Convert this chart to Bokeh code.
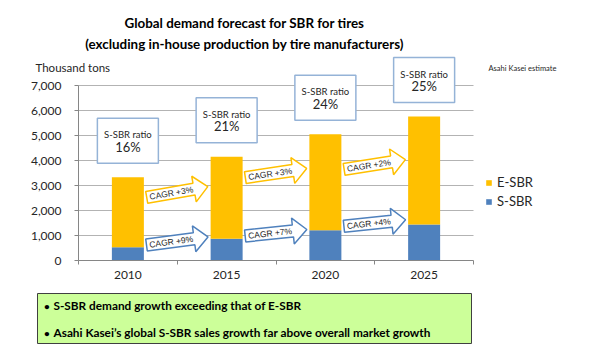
import math
from bokeh.plotting import figure
from bokeh.models import (Range1d, FixedTicker, NumeralTickFormatter, Label, Legend,
                          LegendItem, ColumnDataSource)
from bokeh.core.properties import value
from bokeh.embed import file_html
from bokeh.resources import INLINE

# ---------------- data ----------------
years = ["2010", "2015", "2020", "2025"]
s_sbr = [530, 870, 1210, 1440]          # thousand tons
e_sbr = [2800, 3280, 3840, 4320]        # thousand tons
ratio_labels = ["16%", "21%", "24%", "25%"]
cagr_e = ["CAGR +3%", "CAGR +3%", "CAGR +2%"]
cagr_s = ["CAGR +9%", "CAGR +7%", "CAGR +4%"]
y_ticks = [0, 1000, 2000, 3000, 4000, 5000, 6000, 7000]

title_lines = ["Global demand forecast for SBR for tires",
               "(excluding in-house production by tire manufacturers)"]
unit_label = "Thousand tons"
source_note = "Asahi Kasei estimate"
notes = ["S-SBR demand growth exceeding that of E-SBR",
         "Asahi Kasei\u2019s global S-SBR sales growth far above overall market growth"]

# ---------------- layout / styles ----------------
W, H = 600, 356
AX_L, AX_R, AX_B, AX_T = 78, 473, 260, 85     # pixel positions of the value axes
NCAT, YTOP = len(years), y_ticks[-1]
PXX = (AX_R - AX_L) / NCAT                     # px per category
PXY = (AX_B - AX_T) / YTOP                     # px per thousand tons
YELLOW, BLUE = "#FFC000", "#4F81BD"
AXIS_C, GRID_C, TXT_C = "#868686", "#B3B3B3", "#262626"
FONT = "Lato"


def X(px):
    return (px - AX_L) / PXX


def Y(py):
    return (AX_B - py) / PXY


# annotation arrow placement (y centres in value units, tilt in degrees)
arrow_e_y = [2740, 3500, 3840]
arrow_s_y = [780, 1110, 1500]
arrow_e_deg = [10, 8.5, 9]
arrow_s_deg = [7.5, 6, 6]

p = figure(width=W, height=H, x_range=Range1d(X(0), X(W)), y_range=Range1d(Y(H), Y(0)),
           output_backend="svg", toolbar_location=None, min_border=0)
p.title.visible = False
p.outline_line_color = None
p.background_fill_color = "white"
p.border_fill_color = "white"

# axes (drawn at the value origin, so the frame can hold every annotation)
xc = [i + 0.5 for i in range(NCAT)]
xt = FixedTicker(ticks=xc, minor_ticks=list(range(NCAT + 1)))
p.xaxis.fixed_location = 0
p.xaxis.bounds = (0, NCAT)
p.xaxis.ticker = xt
p.xaxis.major_label_overrides = {c: y for c, y in zip(xc, years)}
p.xaxis.major_tick_line_color = None
p.xaxis.major_tick_out = 0
p.xaxis.major_tick_in = 0
p.xaxis.minor_tick_out = 4
p.xaxis.minor_tick_in = 0
p.xaxis.minor_tick_line_color = AXIS_C
p.xaxis.axis_line_color = AXIS_C
p.xaxis.major_label_standoff = 6
p.xaxis.major_label_text_font = FONT
p.xaxis.major_label_text_font_size = "12px"
p.xaxis.major_label_text_color = TXT_C

yt = FixedTicker(ticks=y_ticks)
p.yaxis.fixed_location = 0
p.yaxis.ticker = yt
p.yaxis.formatter = NumeralTickFormatter(format="0,0")
p.yaxis.bounds = (y_ticks[0], y_ticks[-1])
p.yaxis.axis_line_color = AXIS_C
p.yaxis.major_tick_line_color = AXIS_C
p.yaxis.major_tick_out = 4
p.yaxis.major_tick_in = 0
p.yaxis.minor_tick_line_color = None
p.yaxis.major_label_standoff = 13
p.yaxis.major_label_text_font = FONT
p.yaxis.major_label_text_font_size = "12px"
p.yaxis.major_label_text_color = TXT_C

p.xgrid.visible = False
p.ygrid.visible = False
# horizontal gridlines limited to the plotting area
gy = y_ticks[1:]
p.segment(x0=[0] * len(gy), x1=[NCAT] * len(gy), y0=gy, y1=gy,
          line_color=GRID_C, line_width=1)

# stacked bars
src = ColumnDataSource(dict(x=xc, s=s_sbr, e=e_sbr))
r_s, r_e = p.vbar_stack(["s", "e"], x="x", width=32 / PXX, color=[BLUE, YELLOW],
                        line_color=None, source=src)

# ratio boxes above bars
totals = [a + b for a, b in zip(s_sbr, e_sbr)]
box_h = 45 / PXY
box_bottom = [t + 14 / PXY for t in totals]
box_top = [b + box_h for b in box_bottom]
p.rect(x=xc, y=[b + box_h / 2 for b in box_bottom], width=61 / PXX, height=box_h,
       fill_color="white", line_color="#95B3D7", line_width=1.5)
p.text(x=xc, y=[t - 16.5 / PXY for t in box_top], text=["S-SBR ratio"] * NCAT,
       text_align="center", text_baseline="middle", text_font=value(FONT),
       text_font_size="9.5px", text_color=TXT_C)
p.text(x=xc, y=[t - 28.5 / PXY for t in box_top], text=ratio_labels,
       text_align="center", text_baseline="middle", text_font=value(FONT),
       text_font_size="13px", text_color=TXT_C)

# CAGR block arrows
L, LH, HB, HH = 62, 14, 6, 13
shape = [(-L / 2, -HB), (L / 2 - LH, -HB), (L / 2 - LH, -HH), (L / 2, 0),
         (L / 2 - LH, HH), (L / 2 - LH, HB), (-L / 2, HB)]


def arrow(cx, cy, deg):
    t = math.radians(deg)
    xs = [cx + (u * math.cos(t) - v * math.sin(t)) / PXX for u, v in shape]
    ys = [cy + (u * math.sin(t) + v * math.cos(t)) / PXY for u, v in shape]
    return xs, ys


def arrow_set(ys_c, degs, labels, color):
    axs, ays, tx, ty, ta = [], [], [], [], []
    for i, (cy, d) in enumerate(zip(ys_c, degs)):
        cx = i + 1
        a, b = arrow(cx, cy, d)
        axs.append(a)
        ays.append(b)
        t = math.radians(d)
        tx.append(cx - 6 * math.cos(t) / PXX)
        ty.append(cy - 6 * math.sin(t) / PXY)
        ta.append(t)
    p.patches(xs=axs, ys=ays, fill_color="white", line_color=color, line_width=1.5)
    p.text(x=tx, y=ty, text=labels, angle=ta, text_align="center",
           text_baseline="middle", text_font=value("Liberation Sans"),
           text_font_size="8.5px", text_color=TXT_C)


arrow_set(arrow_e_y, arrow_e_deg, cagr_e, YELLOW)
arrow_set(arrow_s_y, arrow_s_deg, cagr_s, BLUE)

# legend to the right of the plotting area
legend = Legend(items=[LegendItem(label="E-SBR", renderers=[r_e]),
                       LegendItem(label="S-SBR", renderers=[r_s])],
                location=(485, H - 209), padding=0, margin=0, border_line_color=None,
                background_fill_alpha=0, glyph_width=7, glyph_height=7,
                label_standoff=5, spacing=3, label_text_font=FONT,
                label_text_font_size="13px", label_text_color=TXT_C,
                label_height=14)
p.add_layout(legend)

# titles and side texts (screen units: y measured up from the bottom edge)
for t, py in zip(title_lines, [22, 43]):
    p.add_layout(Label(x=244, y=H - py, x_units="screen", y_units="screen", text=t,
                       text_align="center", text_baseline="middle", text_font=FONT,
                       text_font_style="bold", text_font_size="13.4px", text_color="black"))
p.add_layout(Label(x=35, y=H - 67, x_units="screen", y_units="screen", text=unit_label,
                   text_align="left", text_baseline="middle", text_font=FONT,
                   text_font_size="11.5px", text_color=TXT_C))
p.add_layout(Label(x=488, y=H - 68, x_units="screen", y_units="screen", text=source_note,
                   text_align="left", text_baseline="middle", text_font=FONT,
                   text_font_size="7.5px", text_color=TXT_C))

# key messages box
p.quad(left=X(37), right=X(471), top=Y(293), bottom=Y(343),
       fill_color="#CCFF99", line_color="#404040", line_width=1)
for t, py in zip(notes, [305, 332]):
    p.add_layout(Label(x=46.5, y=H - py, x_units="screen", y_units="screen", text="\u2022",
                       text_align="center", text_baseline="middle", text_font=FONT,
                       text_font_style="bold", text_font_size="10px", text_color="black"))
    p.add_layout(Label(x=53, y=H - py, x_units="screen", y_units="screen", text=t,
                       text_align="left", text_baseline="middle", text_font=FONT,
                       text_font_style="bold", text_font_size="11.8px", text_color="black"))

open("out.html", "w").write(file_html(p, INLINE))
